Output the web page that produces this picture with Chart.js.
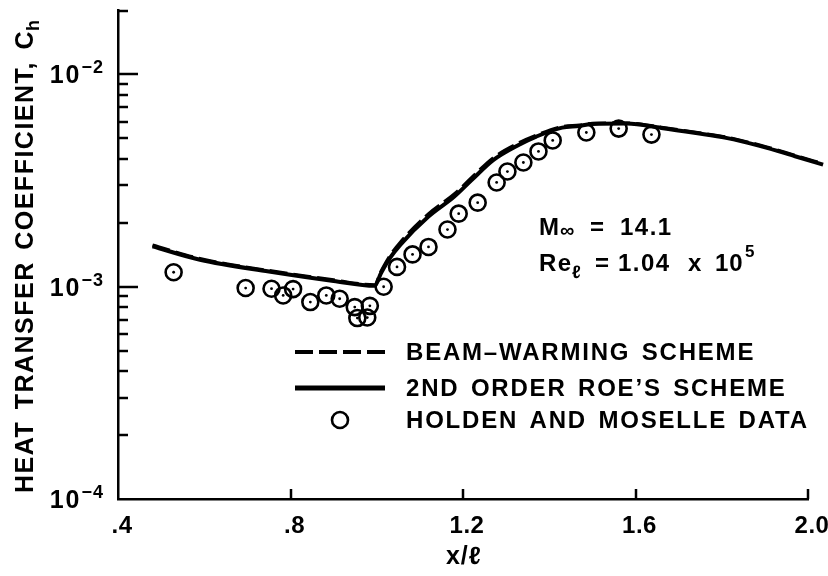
<!DOCTYPE html>
<html>
<head>
<meta charset="utf-8">
<script src="https://cdn.jsdelivr.net/npm/chart.js@4"></script>
<style>
  html, body { margin: 0; padding: 0; background: #fff; }
  canvas { display: block; }
</style>
</head>
<body>
<canvas id="chart" width="828" height="576"></canvas>
<script>
// Computed heat transfer distributions (x/l, Ch)
const xCurve = [0.48, 0.59, 0.75, 0.90, 0.995, 1.01, 1.03, 1.055, 1.12, 1.18, 1.22, 1.27, 1.33, 1.37, 1.43, 1.47, 1.50, 1.58, 1.66, 1.74, 1.81, 1.89, 1.97, 2.035];
const roeCh = [1.55e-3, 1.34e-3, 1.18e-3, 1.065e-3, 1.01e-3, 1.16e-3, 1.36e-3, 1.58e-3, 2.14e-3, 2.66e-3, 3.18e-3, 3.95e-3, 4.67e-3, 5.10e-3, 5.62e-3, 5.72e-3, 5.85e-3, 5.87e-3, 5.60e-3, 5.30e-3, 5.03e-3, 4.60e-3, 4.12e-3, 3.76e-3];
const beamCh = [1.57e-3, 1.355e-3, 1.19e-3, 1.075e-3, 1.02e-3, 1.18e-3, 1.39e-3, 1.62e-3, 2.20e-3, 2.73e-3, 3.26e-3, 4.04e-3, 4.76e-3, 5.17e-3, 5.67e-3, 5.76e-3, 5.88e-3, 5.90e-3, 5.63e-3, 5.33e-3, 5.06e-3, 4.63e-3, 4.15e-3, 3.79e-3];

// Experimental points
const xData = [0.529, 0.696, 0.756, 0.783, 0.806, 0.846, 0.883, 0.914, 0.949, 0.984, 0.955, 0.978, 1.016, 1.047, 1.083, 1.120, 1.164, 1.190, 1.234, 1.278, 1.303, 1.340, 1.375, 1.408, 1.486, 1.561, 1.637];
const chData = [1.17e-3, 0.986e-3, 0.979e-3, 0.910e-3, 0.975e-3, 0.847e-3, 0.910e-3, 0.878e-3, 0.802e-3, 0.813e-3, 0.712e-3, 0.716e-3, 1.0e-3, 1.24e-3, 1.42e-3, 1.54e-3, 1.86e-3, 2.21e-3, 2.49e-3, 3.10e-3, 3.49e-3, 3.85e-3, 4.34e-3, 4.89e-3, 5.33e-3, 5.56e-3, 5.21e-3];

// Axis ticks
const xTicks = [0.4, 0.8, 1.2, 1.6, 2.0];
const xTickLabels = ['.4', '.8', '1.2', '1.6', '2.0'];
const yDecades = [1e-4, 1e-3, 1e-2];
const yExponents = ['\u22124', '\u22123', '\u22122'];
const yTop = 2e-2;

const legendLabels = ['BEAM\u2013WARMING SCHEME', '2ND ORDER ROE\u2019S SCHEME', 'HOLDEN AND MOSELLE DATA'];

const FONT = '"Liberation Sans", Arial, sans-serif';
const INK = '#000';

function pts(xs, ys) {
  return xs.map((x, i) => ({ x: x, y: ys[i] }));
}

function put(ctx, str, x, y, size, align, ls) {
  ctx.font = 'bold ' + size + 'px ' + FONT;
  ctx.letterSpacing = (ls === undefined ? 1.5 : ls) + 'px';
  ctx.wordSpacing = '3px';
  ctx.textAlign = align || 'left';
  ctx.textBaseline = 'alphabetic';
  ctx.fillStyle = INK;
  ctx.fillText(str, x, y);
  return ctx.measureText(str).width;
}

// Ticks, labels, titles, legend and flow conditions
const decorations = {
  id: 'decorations',
  afterDraw(chart) {
    const ctx = chart.ctx;
    const xs = chart.scales.x, ys = chart.scales.y;
    const area = chart.chartArea;
    ctx.save();
    ctx.strokeStyle = INK;
    ctx.lineWidth = 2.5;
    ctx.lineCap = 'butt';

    // y ticks point into the plot
    const tick = (v, len) => {
      const py = Math.round(ys.getPixelForValue(v));
      ctx.beginPath();
      ctx.moveTo(area.left, py);
      ctx.lineTo(area.left + len, py);
      ctx.stroke();
    };
    yDecades.forEach((d, i) => {
      if (i > 0) tick(d, 20);
      if (i < yDecades.length - 1) {
        for (let m = 2; m <= 9; m++) tick(d * m, 10);
      }
    });
    tick(yTop, 10);

    // x ticks point up
    xTicks.forEach((v, i) => {
      if (i === 0) return;
      const px = Math.round(xs.getPixelForValue(v));
      ctx.beginPath();
      ctx.moveTo(px, area.bottom);
      ctx.lineTo(px, area.bottom - 10);
      ctx.stroke();
    });

    // x tick labels
    xTicks.forEach((v, i) => {
      const px = xs.getPixelForValue(v);
      put(ctx, xTickLabels[i], px + 4, area.bottom + 34, 24, 'center', 0.5);
    });

    // y tick labels, 10 with superscript exponent
    yDecades.forEach((d, i) => {
      const py = ys.getPixelForValue(d);
      const right = area.left - 14;
      const w = put(ctx, yExponents[i], right, py - 1, 18, 'right', 1);
      put(ctx, '10', right - w, py + 9, 25, 'right', 2);
    });

    // axis titles
    ctx.save();
    ctx.translate(33, 493);
    ctx.rotate(-Math.PI / 2);
    const tw = put(ctx, 'HEAT TRANSFER COEFFICIENT, C', 0, 0, 25, 'left', 1.5);
    put(ctx, 'h', tw - 1, 6, 18, 'left', 0);
    ctx.restore();
    put(ctx, 'x/\u2113', (area.left + area.right) / 2 + 1, 564, 25, 'center', 1);

    // legend
    const lx0 = 295, lx1 = 385, tx = 406;
    const rows = [352, 388, 420];
    ctx.lineWidth = 4;
    ctx.setLineDash([18, 6]);
    ctx.beginPath(); ctx.moveTo(lx0, rows[0]); ctx.lineTo(lx1, rows[0]); ctx.stroke();
    ctx.setLineDash([]);
    ctx.lineWidth = 5;
    ctx.beginPath(); ctx.moveTo(lx0, rows[1]); ctx.lineTo(lx1, rows[1]); ctx.stroke();
    ctx.lineWidth = 2.6;
    ctx.beginPath(); ctx.arc((lx0 + lx1) / 2, rows[2], 8, 0, Math.PI * 2); ctx.stroke();
    legendLabels.forEach((t, i) => put(ctx, t, tx, rows[i] + 8, 24, 'left', 1.8));

    // flow conditions
    const ax = 539;
    put(ctx, 'M', ax, 235, 24);
    put(ctx, '\u221e', ax + 21, 237, 20);
    put(ctx, '=', ax + 51, 235, 24);
    put(ctx, '14.1', ax + 81, 235, 24);
    put(ctx, 'Re', ax, 271, 24);
    put(ctx, '\u2113', ax + 33, 278, 18);
    put(ctx, '=', ax + 56, 271, 24);
    put(ctx, '1.04', ax + 79, 271, 24);
    put(ctx, 'x', ax + 149, 271, 24);
    put(ctx, '10', ax + 176, 271, 24, 'left', 1);
    put(ctx, '5', ax + 206, 257, 17);
    ctx.restore();
  }
};

new Chart(document.getElementById('chart'), {
  type: 'scatter',
  data: {
    datasets: [
      {
        label: legendLabels[0],
        data: pts(xCurve, beamCh),
        showLine: true,
        borderColor: INK,
        borderWidth: 3.5,
        borderDash: [18, 6],
        pointRadius: 0,
        cubicInterpolationMode: 'monotone',
        clip: false
      },
      {
        label: legendLabels[1],
        data: pts(xCurve, roeCh),
        showLine: true,
        borderColor: INK,
        borderWidth: 4,
        pointRadius: 0,
        cubicInterpolationMode: 'monotone',
        clip: false
      },
      {
        label: legendLabels[2],
        data: pts(xData, chData),
        showLine: false,
        pointRadius: 8,
        borderWidth: 2.6,
        borderColor: INK,
        backgroundColor: 'rgba(0,0,0,0)'
      },
      {
        label: 'centres',
        data: pts(xData, chData),
        showLine: false,
        pointRadius: 1.4,
        borderWidth: 0,
        backgroundColor: INK
      }
    ]
  },
  options: {
    responsive: false,
    animation: false,
    events: [],
    layout: { padding: { top: 10, right: 20, left: 0, bottom: 0 } },
    plugins: { legend: { display: false }, tooltip: { enabled: false } },
    scales: {
      x: {
        type: 'linear',
        min: 0.4,
        max: 2.0,
        grid: { display: false, drawTicks: false },
        border: { display: true, color: INK, width: 2.5 },
        ticks: { display: false },
        afterFit(scale) { scale.height = 77; }
      },
      y: {
        type: 'logarithmic',
        min: 1e-4,
        max: yTop,
        grid: { display: false, drawTicks: false },
        border: { display: true, color: INK, width: 2.5 },
        ticks: { display: false },
        afterFit(scale) { scale.width = 118; }
      }
    }
  },
  plugins: [decorations]
});
</script>
</body>
</html>
